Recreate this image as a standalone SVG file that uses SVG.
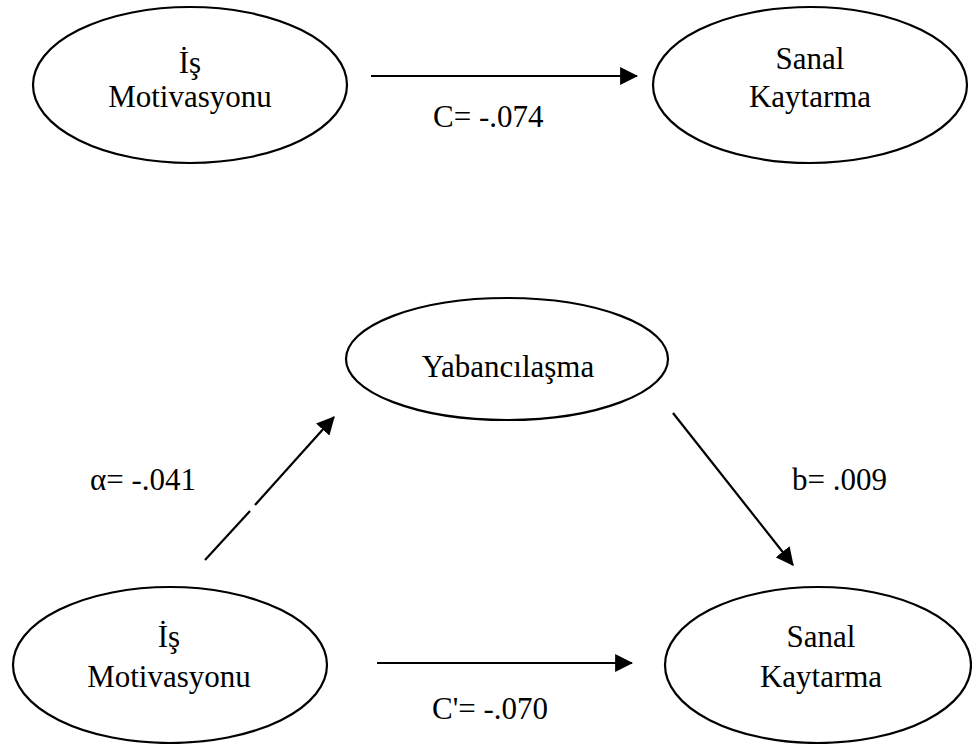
<svg xmlns="http://www.w3.org/2000/svg" width="972" height="744" viewBox="0 0 972 744">
<style>
.node{fill:#fff;stroke:#000;stroke-width:2.2}
.t{font-family:"Liberation Serif","Times New Roman","DejaVu Serif",serif;font-size:31px;fill:#000;text-anchor:middle}
.lbl{font-family:"Liberation Serif","Times New Roman","DejaVu Serif",serif;font-size:31px;fill:#000}
.e{stroke:#000;stroke-width:2.2;fill:none}
</style>
<defs>
<marker id="ah" markerUnits="userSpaceOnUse" markerWidth="18" markerHeight="18" viewBox="0 0 16 16" refX="15" refY="8" orient="auto">
<path d="M0,0 L16,8 L0,16 Z" fill="#000"/>
</marker>
</defs>
<rect width="972" height="744" fill="#fff"/>
<g id="n1"><ellipse class="node" cx="190" cy="85" rx="157" ry="78"/><text class="t" x="190" y="73">İş</text><text class="t" x="190" y="107">Motivasyonu</text></g>
<g id="n2"><ellipse class="node" cx="810" cy="85" rx="157" ry="78"/><text class="t" x="810" y="69">Sanal</text><text class="t" x="810" y="107">Kaytarma</text></g>
<g id="n3"><ellipse class="node" cx="507" cy="359" rx="161" ry="61"/><text class="t" x="508" y="377">Yabancılaşma</text></g>
<g id="n4"><ellipse class="node" cx="170" cy="665" rx="157" ry="78"/><text class="t" x="169" y="647">İş</text><text class="t" x="169" y="687">Motivasyonu</text></g>
<g id="n5"><ellipse class="node" cx="818" cy="665" rx="153" ry="78"/><text class="t" x="821" y="647">Sanal</text><text class="t" x="821" y="687">Kaytarma</text></g>
<g id="connectors">
<line class="e" x1="371" y1="76" x2="637" y2="76" marker-end="url(#ah)"/>
<line class="e" x1="205" y1="560" x2="250" y2="511"/>
<line class="e" x1="255" y1="505" x2="334" y2="417" marker-end="url(#ah)"/>
<line class="e" x1="673" y1="413" x2="793" y2="565" marker-end="url(#ah)"/>
<line class="e" x1="377" y1="663" x2="632" y2="663" marker-end="url(#ah)"/>
</g>
<g id="labels">
<text class="lbl" x="433" y="127">C= -.074</text>
<text class="lbl" x="90" y="490">α= -.041</text>
<text class="lbl" x="792" y="490">b= .009</text>
<text class="lbl" x="432" y="719">C'= -.070</text>
</g>
</svg>
